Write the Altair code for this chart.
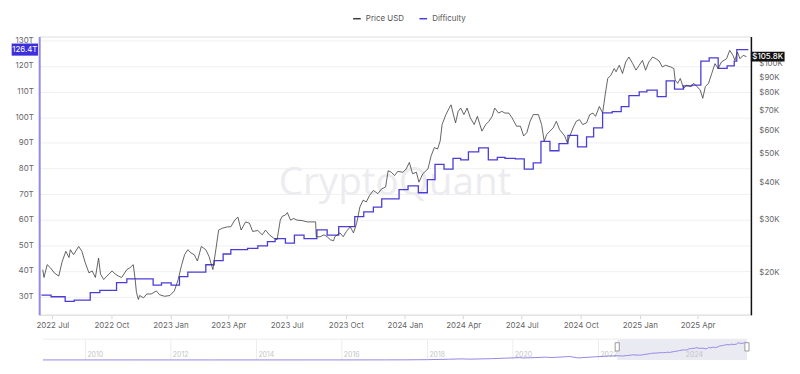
import altair as alt
import pandas as pd

# ---------------- data (days counted from 2022-07-01) ----------------
price_points = [
    (-15, 20.4), (-13, 19.2), (-8, 21.2), (-3, 20.7), (3, 19.9), (10, 19.4), (15, 21.6),
    (21, 23.5), (26, 22.4), (28, 23.8), (33, 22.9), (41, 24.4), (46, 23.5), (51, 21.6),
    (57, 19.9), (62, 20.2), (67, 19.2), (72, 22.3), (75, 19.7), (80, 18.9), (85, 19.4),
    (93, 20.2), (98, 19.7), (103, 19.4), (108, 19.2), (116, 20.4), (121, 20.7), (126, 21.2),
    (129, 18.9), (131, 17.1), (134, 16.2), (136, 16.7), (142, 16.4), (147, 16.9), (154, 16.9),
    (162, 17.3), (167, 16.8), (175, 16.6), (183, 16.7), (190, 17.3), (196, 18.9), (201, 21.0),
    (206, 22.9), (211, 23.8), (216, 23.2), (221, 22.9), (226, 21.8), (232, 24.4), (239, 23.8),
    (244, 22.6), (250, 20.4), (255, 24.1), (259, 27.7), (265, 28.1), (273, 28.4), (278, 28.4),
    (284, 29.9), (289, 30.6), (294, 27.7), (301, 29.5), (307, 29.2), (312, 27.4), (320, 27.6),
    (327, 26.7), (332, 27.7), (338, 26.7), (345, 26.0), (350, 25.7), (355, 29.9), (358, 30.8),
    (363, 31.1), (366, 31.7), (371, 29.9), (376, 30.3), (381, 29.9), (389, 29.8), (397, 29.5),
    (404, 29.5), (410, 29.5), (411, 26.3), (417, 26.3), (423, 26.7), (428, 26.3), (433, 25.7),
    (438, 25.5), (440, 26.3), (448, 27.1), (453, 26.3), (458, 27.4), (464, 28.4), (469, 27.1),
    (474, 29.2), (479, 33.1), (484, 34.9), (489, 34.4), (494, 36.2), (500, 37.6), (507, 36.7),
    (513, 38.1), (519, 38.6), (523, 43.8), (528, 43.3), (533, 42.2), (538, 43.6), (546, 43.3),
    (551, 44.4), (556, 46.7), (561, 42.8), (567, 43.3), (571, 40.1), (577, 42.8), (582, 43.8),
    (585, 44.4), (590, 49.2), (595, 52.4), (600, 51.8), (604, 55.1), (607, 62.6), (613, 67.6),
    (618, 71.1), (621, 72.9), (624, 68.4), (628, 63.4), (632, 69.3), (636, 71.1), (641, 67.6),
    (646, 71.1), (651, 65.9), (657, 62.6), (662, 66.7), (669, 59.5), (675, 62.6), (680, 64.2),
    (685, 66.7), (689, 71.1), (695, 68.4), (700, 69.3), (705, 68.4), (711, 68.4), (716, 65.9),
    (723, 61.8), (729, 61.8), (734, 57.3), (739, 58.8), (744, 64.2), (749, 67.6), (757, 67.6),
    (762, 62.6), (766, 55.1), (770, 58.0), (775, 59.5), (780, 61.0), (785, 64.2), (790, 60.2),
    (798, 57.3), (802, 54.4), (806, 57.3), (811, 61.0), (816, 64.2), (821, 65.0), (826, 62.6),
    (832, 63.4), (837, 67.6), (842, 68.4), (846, 66.7), (852, 72.0), (857, 68.4), (861, 78.7),
    (865, 89.4), (870, 91.7), (875, 96.5), (878, 94.1), (883, 99.0), (888, 92.9), (893, 101.5),
    (898, 105.5), (904, 100.2), (909, 95.3), (914, 99.0), (919, 102.8), (924, 95.3), (929, 101.5),
    (935, 105.5), (940, 104.1), (945, 102.3), (950, 97.7), (955, 99.0), (963, 97.7), (968, 96.5),
    (970, 88.3), (974, 86.1), (978, 89.4), (983, 82.8), (988, 84.9), (994, 83.9), (999, 86.1),
    (1004, 83.9), (1009, 81.8), (1013, 76.7), (1017, 83.9), (1022, 86.1), (1027, 92.9),
    (1032, 100.2), (1037, 96.5), (1042, 101.5), (1050, 104.1), (1055, 111.0), (1060, 106.9),
    (1063, 102.8), (1067, 109.6), (1071, 104.1), (1076, 106.9), (1081, 105.8),
]

difficulty_points = [
    (-17, 30.5), (-2, 29.9), (20, 28.1), (34, 28.6), (59, 31.5), (74, 32.4), (100, 35.4),
    (116, 36.9), (157, 34.4), (170, 35.3), (185, 34.4), (198, 37.8), (211, 39.5), (239, 42.4),
    (252, 44.0), (266, 46.6), (278, 48.3), (304, 48.8), (320, 49.8), (335, 51.4), (347, 52.6),
    (363, 50.8), (377, 54.0), (392, 52.6), (412, 56.0), (428, 54.0), (446, 57.3), (471, 61.2),
    (485, 63.0), (500, 64.9), (513, 68.1), (540, 71.7), (554, 73.2), (570, 70.5), (584, 75.6),
    (596, 81.6), (610, 79.7), (624, 83.9), (636, 83.3), (648, 86.5), (664, 88.0), (679, 83.3),
    (693, 84.3), (705, 83.9), (721, 83.7), (735, 79.7), (749, 82.2), (761, 90.6), (775, 86.9),
    (789, 89.7), (803, 92.9), (818, 88.4), (832, 92.3), (843, 95.8), (857, 101.7), (872, 102.2),
    (886, 104.1), (898, 108.4), (914, 109.9), (926, 110.6), (942, 108.0), (956, 114.2),
    (969, 111.0), (983, 112.2), (996, 112.5), (1010, 121.9), (1023, 123.2), (1037, 119.1),
    (1051, 120.0), (1062, 121.9), (1066, 126.4), (1084, 126.4),
]

# long-run difficulty history (navigator), in T
history_dates = ["2009-01-03", "2011-01-01", "2013-01-01", "2015-01-01", "2016-01-01",
                 "2017-01-01", "2017-07-01", "2018-01-01", "2018-07-01", "2018-10-15",
                 "2019-01-01", "2019-07-01", "2019-11-01", "2020-03-01", "2020-04-01",
                 "2020-06-01", "2020-10-15", "2020-11-15", "2021-01-01", "2021-05-01",
                 "2021-07-10", "2021-12-01", "2022-05-01"]
history_t = [0, 0.00002, 0.003, 0.04, 0.1, 0.3, 0.7, 1.9, 5.0, 7.4, 5.6, 9.0, 13.0, 16.5,
             14.0, 15.8, 19.9, 17.3, 18.6, 25.0, 14.4, 22.3, 29.8]

nav_years = ["2010", "2012", "2014", "2016", "2018", "2020", "2022", "2024"]
left_ticks = [30, 40, 50, 60, 70, 80, 90, 100, 110, 120, 130]
right_ticks = [20000, 30000, 40000, 50000, 60000, 70000, 80000, 90000, 100000]
series_names = ["Price USD", "Difficulty"]
series_colors = ["#3c3c3c", "#4a3cd8"]

# ---------------- frames ----------------
base = pd.Timestamp("2022-07-01")
p_days, p_vals = zip(*price_points)
d_days, d_vals = zip(*difficulty_points)

price_df = pd.DataFrame({
    "date": base + pd.to_timedelta(list(p_days), unit="D"),
    "value": [v * 1000 for v in p_vals],
    "series": "Price USD",
})
diff_df = pd.DataFrame({
    "date": base + pd.to_timedelta(list(d_days), unit="D"),
    "value": list(d_vals),
    "series": "Difficulty",
})
nav_df = pd.DataFrame({
    "date": list(pd.to_datetime(history_dates)) + list(diff_df["date"]),
    "value": history_t + list(d_vals),
})
price_last = pd.DataFrame({"value": [price_df["value"].iloc[-1]],
                           "label": ["$%.1fK" % (price_df["value"].iloc[-1] / 1000)]})
diff_last = pd.DataFrame({"value": [diff_df["value"].iloc[-1]],
                          "label": ["%.1fT" % diff_df["value"].iloc[-1]]})
years_df = pd.DataFrame({"date": pd.to_datetime([y + "-01-01" for y in nav_years]), "label": nav_years})
sel_df = pd.DataFrame({"start": [pd.Timestamp("2022-06-10 12:00")], "end": [pd.Timestamp("2025-06-23")]})
handles_df = pd.DataFrame({"date": [pd.Timestamp("2022-06-10 12:00"), pd.Timestamp("2025-06-23")]})
wm_df = pd.DataFrame({"t": ["CryptoQuant"]})

FONT = "Inter"
W, H = 719, 281

# ---------------- scales / axes ----------------
x_scale = alt.Scale(domain=[alt.DateTime(year=2022, month=6, date=10, hours=12),
                            alt.DateTime(year=2025, month=6, date=23)], nice=False)
x_axis = alt.Axis(format="%Y %b", tickCount={"interval": "month", "step": 3}, title=None,
                  labelColor="#666", labelFontSize=8, labelFont=FONT, domainColor="#e3e3e3",
                  tickColor="#d5d5d5", tickSize=4, grid=False, labelPadding=3, labelFlush=False,
                  labelOverlap=False)
diff_scale = alt.Scale(domain=[22.9, 131.5], nice=False, zero=False)
diff_axis = alt.Axis(orient="left", values=left_ticks, labelExpr="datum.value + 'T'", title=None,
                     grid=True, gridColor="#f0f0f0", ticks=False, domainColor="#9489ec",
                     domainWidth=2, labelColor="#666", labelFontSize=8, labelFont=FONT,
                     labelPadding=6, labelOverlap=False, labelBound=False)
price_scale = alt.Scale(type="log", domain=[14400, 123600], nice=False)
price_axis = alt.Axis(orient="right", values=right_ticks,
                      labelExpr="'$' + (datum.value / 1000) + 'K'", title=None, grid=False,
                      ticks=False, domainColor="#111", domainWidth=1.5, labelColor="#666",
                      labelFontSize=8, labelFont=FONT, labelPadding=8, labelOverlap=False,
                      labelBound=False)
color_scale = alt.Scale(domain=series_names, range=series_colors)
legend = alt.Legend(orient="none", legendX=316, legendY=-23, direction="horizontal", title=None,
                    labelFontSize=8, labelColor="#555", labelFont=FONT, symbolType="stroke",
                    symbolSize=60, symbolStrokeWidth=1.5, columnPadding=12)

# ---------------- main layers ----------------
watermark = alt.Chart(wm_df).mark_text(fontSize=39, color="#ececf0", font="Open Sans",
                                       fontWeight=500).encode(
    x=alt.value(W / 2), y=alt.value(148), text="t:N")

diff_line = alt.Chart(diff_df).mark_line(interpolate="step-after", strokeWidth=1.3).encode(
    x=alt.X("date:T", scale=x_scale, axis=x_axis),
    y=alt.Y("value:Q", scale=diff_scale, axis=diff_axis),
    color=alt.Color("series:N", scale=color_scale, legend=legend),
)
diff_box = alt.Chart(diff_last).mark_point(
    shape="M-1,-0.46L1,-0.46L1,0.46L-1,0.46Z", filled=True, size=708, opacity=1,
    color="#3d2fdc").encode(x=alt.value(-14.5),
                            y=alt.Y("value:Q", scale=diff_scale, axis=diff_axis))
diff_text = alt.Chart(diff_last).mark_text(color="white", fontSize=8, font=FONT).encode(
    x=alt.value(-14.5), y=alt.Y("value:Q", scale=diff_scale, axis=diff_axis), text="label:N")
diff_group = alt.layer(diff_line, diff_box, diff_text)

price_line = alt.Chart(price_df).mark_line(strokeWidth=0.8).encode(
    x=alt.X("date:T", scale=x_scale, axis=x_axis),
    y=alt.Y("value:Q", scale=price_scale, axis=price_axis),
    color=alt.Color("series:N", scale=color_scale, legend=legend),
)
price_box = alt.Chart(price_last).mark_point(
    shape="M-1,-0.29L1,-0.29L1,0.29L-1,0.29Z", filled=True, size=1156, opacity=1,
    color="#111").encode(x=alt.value(736),
                         y=alt.Y("value:Q", scale=price_scale, axis=price_axis))
price_text = alt.Chart(price_last).mark_text(color="white", fontSize=8, font=FONT,
                                             fontWeight=500).encode(
    x=alt.value(736), y=alt.Y("value:Q", scale=price_scale, axis=price_axis), text="label:N")
price_group = alt.layer(price_line, price_box, price_text)

main_group = alt.layer(diff_group, price_group).resolve_scale(y="independent")

# ---------------- navigator ----------------
NT, NB = 305.7, 326.7
nav_x = alt.Scale(domain=[alt.DateTime(year=2009, month=1, date=3),
                          alt.DateTime(year=2025, month=6, date=23)], range=[3.8, 715], nice=False)
nav_y = alt.Scale(domain=[0, 150], range=[NB, NT], nice=False)

nav_sel = alt.Chart(sel_df).mark_rect(color="#eaeaf2").encode(
    x=alt.X("start:T", scale=nav_x, axis=None), x2="end:T",
    y=alt.value(NT), y2=alt.value(NB))
nav_top = alt.Chart(sel_df).mark_rule(color="#ececec", strokeWidth=1).encode(
    x=alt.value(3.8), x2=alt.value(715), y=alt.value(NT))
nav_rules = alt.Chart(years_df).mark_rule(color="#ececec", strokeWidth=1).encode(
    x=alt.X("date:T", scale=nav_x, axis=None), y=alt.value(NT), y2=alt.value(NB))
nav_labels = alt.Chart(years_df).mark_text(align="left", baseline="bottom", dx=2, fontSize=7,
                                           color="#c4c4c4", font=FONT).encode(
    x=alt.X("date:T", scale=nav_x, axis=None), y=alt.value(NB - 1.5), text="label:N")
nav_line = alt.Chart(nav_df).mark_line(color="#9388e6", strokeWidth=1).encode(
    x=alt.X("date:T", scale=nav_x, axis=None),
    y=alt.Y("value:Q", scale=nav_y, axis=None))
nav_handles = alt.Chart(handles_df).mark_point(
    shape="M-0.5,-1L0.5,-1L0.5,1L-0.5,1Z", size=70, filled=True, fill="white",
    stroke="#9a9a9a", strokeWidth=1, opacity=1).encode(
    x=alt.X("date:T", scale=nav_x, axis=None), y=alt.value(313.5))
nav_group = alt.layer(nav_sel, nav_top, nav_rules, nav_labels, nav_line, nav_handles)

chart = alt.layer(watermark, main_group, nav_group).resolve_scale(
    x="independent", y="independent"
).properties(
    width=W, height=H,
    autosize=alt.AutoSizeParams(type="none"),
    padding={"left": 31.5, "top": 27, "right": 41.5, "bottom": 48},
).configure_view(stroke=None).configure(font=FONT).configure_axis(labelOverlap=False)

chart.save("out.html", embed_options={"renderer": "svg", "actions": False})
